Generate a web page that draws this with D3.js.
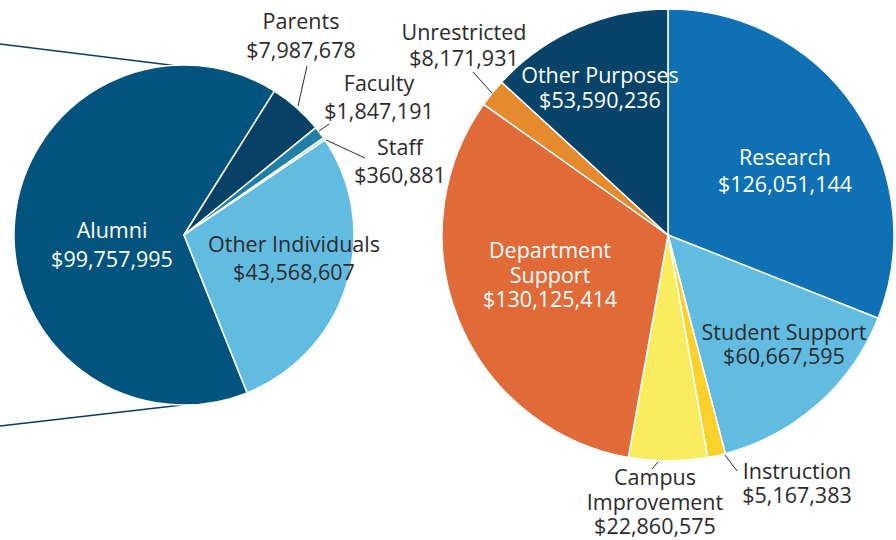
<!DOCTYPE html>
<html>
<head>
<meta charset="utf-8">
<script src="https://cdn.jsdelivr.net/npm/d3@7"></script>
<style>
  html, body { margin: 0; padding: 0; background: #ffffff; }
  svg { display: block; }
  text { font-family: "Open Sans", "Noto Sans", sans-serif; font-size: 21.5px; }
</style>
</head>
<body>
<svg id="chart" width="896" height="540"></svg>
<script>
// ---- data ----
const leftCategories = ["Alumni", "Parents", "Faculty", "Staff", "Other Individuals"];
const leftValues = [99757995, 7987678, 1847191, 360881, 43568607];
const leftColors = ["#02547f", "#074166", "#217ea8", "#a6d8ef", "#62bce2"];

const rightCategories = ["Research", "Student Support", "Instruction", "Campus Improvement", "Department Support", "Unrestricted", "Other Purposes"];
const rightValues = [126051144, 60667595, 5167383, 22860575, 130125414, 8171931, 53590236];
const rightColors = ["#0f70b4", "#62bce2", "#fad12b", "#f9ed5f", "#e06a38", "#e68a2e", "#084369"];

// ---- layout (label placement) ----
const leftLabelLayout = [
  { lines: ["Alumni"], x: 112, y: 238, lh: 29, fill: "#ffffff" },
  { lines: ["Parents"], x: 301, y: 29, lh: 29, fill: "#2b2b2b", leader: [[307, 66], [298, 106]] },
  { lines: ["Faculty"], x: 379, y: 91, lh: 28, fill: "#2b2b2b", leader: [[329, 124], [319, 131]] },
  { lines: ["Staff"], x: 400, y: 155, lh: 28, fill: "#2b2b2b", leader: [[365, 158], [326, 140]] },
  { lines: ["Other Individuals"], x: 294, y: 252, lh: 28, fill: "#2b2b2b" }
];
const rightLabelLayout = [
  { lines: ["Research"], x: 785, y: 165, lh: 27, fill: "#ffffff" },
  { lines: ["Student Support"], x: 784, y: 340, lh: 24, fill: "#2b2b2b" },
  { lines: ["Instruction"], x: 797, y: 479, lh: 24, fill: "#2b2b2b", leader: [[737, 471], [725, 455]] },
  { lines: ["Campus", "Improvement"], x: 655, y: 485, lh: 24.5, fill: "#2b2b2b", leader: [[652, 469], [658, 462]] },
  { lines: ["Department", "Support"], x: 550, y: 258, lh: 24.5, fill: "#ffffff" },
  { lines: ["Unrestricted"], x: 464, y: 40, lh: 26, fill: "#2b2b2b", leader: [[473, 72], [492, 93]] },
  { lines: ["Other Purposes"], x: 600, y: 83, lh: 25, fill: "#ffffff" }
];

const fmt = d3.format("$,");
const svg = d3.select("#chart");

// connector lines from the left edge
const connectors = [
  [[0, 44], [178, 66]],
  [[0, 426], [182, 405]]
];
svg.selectAll("line.conn").data(connectors).enter().append("line")
  .attr("class", "conn")
  .attr("x1", d => d[0][0]).attr("y1", d => d[0][1])
  .attr("x2", d => d[1][0]).attr("y2", d => d[1][1])
  .attr("stroke", "#0b3d5e").attr("stroke-width", 1.6);

function drawPie(cx, cy, r, categories, values, colors, startDeg, layout) {
  const g = svg.append("g").attr("transform", `translate(${cx},${cy})`);
  const pie = d3.pie().sort(null).value(d => d.v)
    .startAngle(startDeg * Math.PI / 180)
    .endAngle(startDeg * Math.PI / 180 + 2 * Math.PI);
  const arcs = pie(categories.map((c, i) => ({ c, v: values[i], i })));
  const arc = d3.arc().innerRadius(0).outerRadius(r);
  g.selectAll("path").data(arcs).enter().append("path")
    .attr("d", arc)
    .attr("fill", d => colors[d.data.i])
    .attr("stroke", "#ffffff")
    .attr("stroke-width", 1.5)
    .attr("stroke-linejoin", "round");

  layout.forEach((L, i) => {
    if (L.leader) {
      svg.append("line")
        .attr("x1", L.leader[0][0]).attr("y1", L.leader[0][1])
        .attr("x2", L.leader[1][0]).attr("y2", L.leader[1][1])
        .attr("stroke", "#2b2b2b").attr("stroke-width", 1);
    }
    const lines = L.lines.concat([fmt(values[i])]);
    const t = svg.append("text")
      .attr("text-anchor", "middle")
      .attr("fill", L.fill);
    lines.forEach((s, k) => {
      t.append("tspan").attr("x", L.x).attr("y", L.y + k * L.lh).text(s);
    });
  });
}

drawPie(184, 235, 170, leftCategories, leftValues, leftColors, 158.2, leftLabelLayout);
drawPie(668, 235, 226, rightCategories, rightValues, rightColors, 0, rightLabelLayout);
</script>
</body>
</html>
